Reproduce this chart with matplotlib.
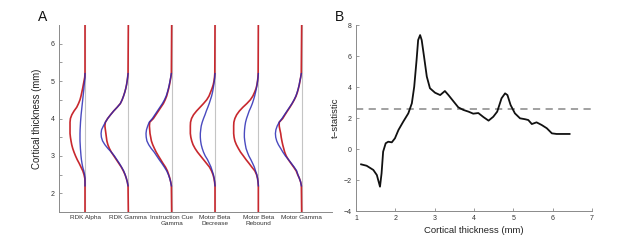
import numpy as np
import matplotlib
matplotlib.use("Agg")
import matplotlib.pyplot as plt

plt.rcParams['font.family'] = ['Liberation Sans', 'DejaVu Sans']

# ---------------- Panel A data ----------------
categories = ["RDK Alpha", "RDK Gamma", "Instruction Cue\nGamma",
              "Motor Beta\nDecrease", "Motor Beta\nRebound", "Motor Gamma"]
thickness_grid = [2.2, 2.3, 2.4, 2.5, 2.6, 2.7, 2.8, 2.9, 3.0, 3.1, 3.2,
                  3.3, 3.4, 3.5, 3.6, 3.7, 3.8, 3.9, 4.0, 4.1, 4.2,
                  4.3, 4.4, 4.5, 4.6, 4.7, 4.8, 4.9, 5.0, 5.1, 5.2]
# distribution widths (scaled density, 43.4 = one category spacing)
red_density = [
    [0.0, 0.0, 0.2, 1.0, 2.2, 4.0, 5.8, 7.8, 9.5, 11.0, 12.3,
     13.3, 14.0, 14.6, 15.0, 15.0, 15.0, 15.0, 14.6, 13.2, 11.0,
     8.3, 6.5, 5.0, 4.0, 3.2, 2.4, 1.7, 1.0, 0.3, 0.0],
    [0.3, 1.0, 2.0, 3.3, 5.0, 7.0, 9.5, 12.0, 14.5, 17.0, 19.0,
     20.5, 21.5, 22.0, 22.5, 23.0, 23.5, 23.0, 20.7, 17.8, 14.7,
     11.2, 8.0, 6.2, 4.8, 3.6, 2.6, 1.8, 1.2, 0.7, 0.3],
    [0.3, 0.9, 1.8, 3.0, 4.3, 6.2, 8.7, 11.0, 13.3, 15.5, 17.3,
     19.0, 20.3, 21.0, 21.7, 22.0, 22.3, 22.0, 18.3, 15.8, 13.3,
     10.8, 8.3, 6.5, 5.0, 4.0, 3.0, 2.2, 1.5, 0.8, 0.3],
    [0.0, 0.4, 1.0, 2.0, 3.5, 5.5, 8.5, 11.5, 14.5, 17.5, 20.0,
     22.0, 23.3, 24.2, 24.7, 24.7, 24.7, 24.5, 23.5, 21.5, 18.5,
     15.0, 11.5, 8.3, 6.0, 4.5, 3.0, 1.8, 1.0, 0.5, 0.2],
    [0.0, 0.3, 0.8, 1.8, 3.5, 6.5, 9.3, 12.3, 15.0, 17.8, 20.0,
     22.0, 23.5, 24.3, 24.7, 24.7, 24.7, 24.5, 23.5, 21.7, 19.0,
     15.5, 11.5, 8.0, 5.5, 3.8, 2.3, 1.4, 0.8, 0.4, 0.2],
    [0.3, 1.0, 2.3, 4.0, 5.5, 8.0, 10.7, 13.3, 15.5, 17.0, 18.0,
     19.0, 19.8, 20.5, 21.0, 21.8, 22.5, 22.5, 19.0, 16.7, 14.3,
     11.8, 9.5, 7.4, 5.6, 4.3, 3.3, 2.4, 1.7, 1.0, 0.4],
]
blue_density = [
    [0.0, 0.0, 0.0, 0.4, 1.2, 2.3, 3.0, 3.6, 4.0, 4.3, 4.6,
     4.8, 5.0, 5.0, 5.0, 4.9, 4.7, 4.5, 4.2, 3.9, 3.5,
     3.1, 2.7, 2.3, 1.9, 1.5, 1.1, 0.8, 0.4, 0.0, 0.0],
    [0.3, 1.0, 2.0, 3.2, 4.7, 6.8, 9.0, 11.5, 14.0, 17.0, 20.5,
     23.5, 25.8, 27.0, 27.3, 26.8, 25.0, 23.0, 20.7, 17.8, 14.7,
     11.2, 8.0, 6.2, 4.8, 3.6, 2.6, 1.8, 1.2, 0.7, 0.3],
    [0.3, 1.0, 2.0, 3.3, 5.0, 7.3, 9.8, 12.5, 15.0, 17.5, 20.5,
     23.0, 24.8, 25.5, 25.7, 25.2, 24.0, 22.5, 19.3, 16.8, 14.3,
     11.8, 9.3, 7.2, 5.5, 4.3, 3.3, 2.4, 1.7, 1.0, 0.4],
    [0.0, 0.3, 0.8, 1.6, 2.8, 4.0, 5.7, 7.5, 9.8, 11.5, 12.8,
     13.8, 14.4, 14.7, 14.7, 14.3, 13.8, 12.8, 11.5, 10.0, 8.7,
     7.2, 5.8, 4.6, 3.4, 2.5, 1.8, 1.2, 0.7, 0.3, 0.0],
    [0.0, 0.3, 0.8, 1.5, 2.8, 4.0, 5.7, 7.5, 9.5, 11.0, 12.3,
     13.0, 13.6, 14.0, 14.0, 13.8, 13.4, 12.8, 11.8, 10.5, 9.2,
     7.5, 6.0, 4.8, 3.7, 2.8, 2.0, 1.3, 0.8, 0.3, 0.0],
    [0.3, 1.0, 2.3, 3.8, 5.0, 7.5, 10.3, 13.2, 16.3, 18.8, 21.0,
     23.3, 25.0, 26.0, 26.3, 25.8, 24.5, 22.5, 19.7, 17.2, 14.7,
     12.2, 9.7, 7.6, 5.8, 4.5, 3.4, 2.5, 1.8, 1.0, 0.4],
]
a_yticks = [2, 3, 4, 5, 6]

# ---------------- Panel B data ----------------
b_x = [1.13, 1.27, 1.44, 1.53, 1.61, 1.65, 1.69, 1.755, 1.82, 1.91, 1.99, 2.08,
       2.20, 2.33, 2.42, 2.48, 2.54, 2.58, 2.63, 2.67, 2.73, 2.80, 2.88, 3.01,
       3.14, 3.26, 3.35, 3.47, 3.60, 3.73, 3.86, 3.98, 4.11, 4.24, 4.37, 4.49,
       4.59, 4.70, 4.79, 4.85, 4.93, 5.04, 5.17, 5.30, 5.38, 5.47, 5.59, 5.72,
       5.85, 5.98, 6.10, 6.43]
b_t = [-0.99, -1.08, -1.35, -1.68, -2.43, -1.57, -0.17, 0.37, 0.47, 0.43, 0.69, 1.23,
       1.76, 2.30, 2.95, 4.02, 5.74, 7.03, 7.35, 7.03, 5.96, 4.67, 3.92, 3.63,
       3.48, 3.74, 3.48, 3.10, 2.69, 2.52, 2.41, 2.28, 2.32, 2.06, 1.83, 2.08,
       2.41, 3.27, 3.59, 3.48, 2.84, 2.30, 1.98, 1.92, 1.87, 1.61, 1.72, 1.55,
       1.34, 1.01, 0.97, 0.97]
threshold = 2.58

RED = '#c8282e'
BLUE = '#2a2ab4'
GREY_SPINE = '#8a8a8a'
TXT = '#333333'

fig = plt.figure(figsize=(6.17, 2.43), dpi=100)

# ---------------- Panel A ----------------
axA = fig.add_axes([59/617, 1-212/243, (332-59)/617, (212-25)/243])
ylo, yhi = 1.5, 6.5
scale = 43.4
for i, (cat, rd, bd) in enumerate(zip(categories, red_density, blue_density)):
    pos = i + 1
    axA.plot([pos, pos], [ylo, yhi], color='#c4c4c4', lw=0.8, zorder=1)
    yy = [ylo] + thickness_grid + [yhi]
    rx = [pos] + [pos - w/scale for w in rd] + [pos]
    bx = [pos - w/scale for w in bd]
    axA.plot(rx, yy, color=RED, lw=1.2, zorder=2, solid_joinstyle='round')
    axA.plot(bx, thickness_grid, color=BLUE, lw=1.0, zorder=3, alpha=0.85,
             solid_joinstyle='round')
axA.set_xlim(0.4, 6.7)
axA.set_ylim(ylo, yhi)
axA.set_yticks(a_yticks)
axA.set_yticks([2.5, 3.5, 4.5, 5.5], minor=True)
axA.set_xticks(range(1, 7))
axA.set_xticklabels(categories, fontsize=4.6, color=TXT, linespacing=1.3)
axA.tick_params(axis='x', length=0, pad=2)
axA.tick_params(axis='y', which='both', direction='in', length=2.5, width=0.6,
                colors=GREY_SPINE, labelsize=5, labelcolor=TXT, pad=3)
for s in ['top', 'right']:
    axA.spines[s].set_visible(False)
for s in ['left', 'bottom']:
    axA.spines[s].set_color(GREY_SPINE)
    axA.spines[s].set_linewidth(0.7)
axA.set_ylabel('Cortical thickness (mm)', fontsize=6.9, color='#222222', labelpad=6)
fig.text(43/617, 1-17/243, 'A', fontsize=10, ha='center', va='center', color='#111111')

# ---------------- Panel B ----------------
axB = fig.add_axes([356/617, 1-211/243, (592-356)/617, (211-25)/243])
axB.axhline(threshold, color='#9a9a9a', lw=1.3, ls=(0, (4, 3)), zorder=1)
axB.plot(b_x, b_t, color='#111111', lw=1.3, zorder=2, solid_joinstyle='round')
axB.set_xlim(1, 7)
axB.set_ylim(-4, 8)
axB.set_xticks(range(1, 8))
axB.set_yticks(range(-4, 9, 2))
axB.set_yticklabels([('\u2212' if v < 0 else '') + str(abs(v)) for v in range(-4, 9, 2)])
axB.tick_params(which='both', direction='in', length=2.5, width=0.6,
                colors=GREY_SPINE, labelsize=5, labelcolor=TXT, pad=3)
for s in ['top', 'right']:
    axB.spines[s].set_visible(False)
for s in ['left', 'bottom']:
    axB.spines[s].set_color(GREY_SPINE)
    axB.spines[s].set_linewidth(0.7)
axB.set_xlabel('Cortical thickness (mm)', fontsize=6.8, color='#222222', labelpad=3)
axB.set_ylabel('t\u2212statistic', fontsize=6.8, color='#222222', labelpad=3)
fig.text(339/617, 1-17/243, 'B', fontsize=10, ha='center', va='center', color='#111111')

fig.savefig('out.png', dpi=100)
